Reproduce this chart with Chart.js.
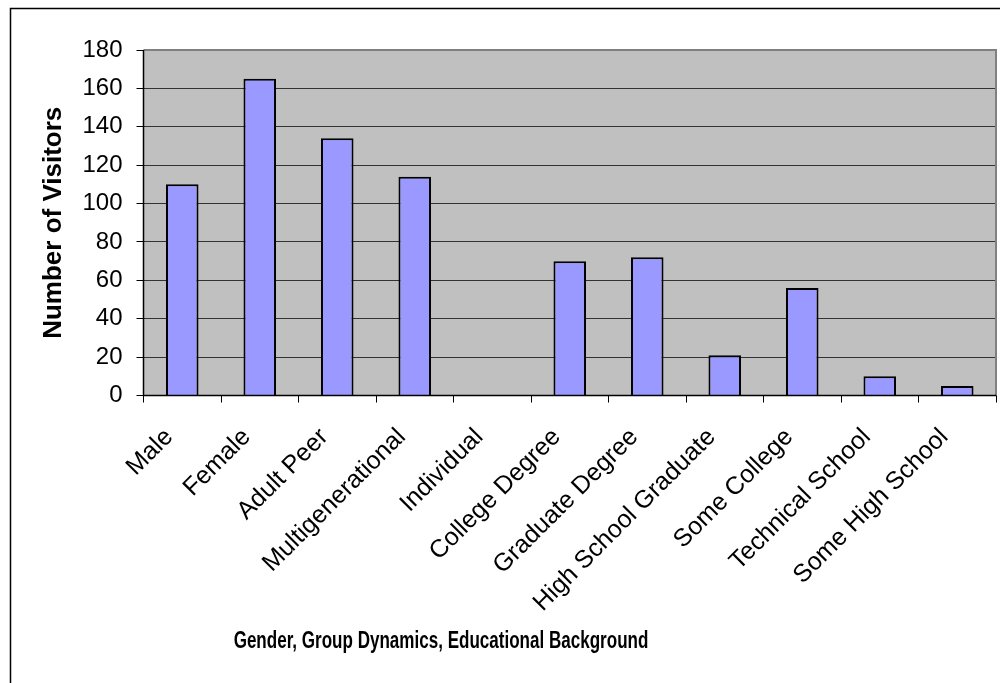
<!DOCTYPE html>
<html>
<head>
<meta charset="utf-8">
<script src="https://cdn.jsdelivr.net/npm/chart.js@4.4.0/dist/chart.umd.min.js"></script>
<style>
  html, body { margin: 0; padding: 0; background: #ffffff; }
  #wrap { position: relative; width: 1000px; height: 683px; }
  canvas { display: block; }
</style>
</head>
<body>
<div id="wrap"><canvas id="c" width="1000" height="683"></canvas></div>
<script>
const categories = ["Male", "Female", "Adult Peer", "Multigenerational", "Individual",
  "College Degree", "Graduate Degree", "High School Graduate", "Some College",
  "Technical School", "Some High School"];
const visitors = [110, 165, 134, 114, 0, 70, 72, 21, 56, 10, 5];
const yTitle = "Number of Visitors";
const xTitle = "Gender, Group Dynamics, Educational Background";
const yMin = 0, yMax = 180, yStep = 20;

const FONT = "'Liberation Sans', Arial, sans-serif";

const framePlugin = {
  id: 'frame',
  beforeDraw(chart) {
    const ctx = chart.ctx;
    const a = chart.chartArea;
    ctx.save();
    ctx.fillStyle = '#ffffff';
    ctx.fillRect(0, 0, chart.width, chart.height);
    ctx.strokeStyle = '#000000';
    ctx.lineWidth = 1.5;
    ctx.beginPath();
    ctx.moveTo(10.5, chart.height + 2);
    ctx.lineTo(10.5, 8.5);
    ctx.lineTo(chart.width + 2, 8.5);
    ctx.stroke();
    ctx.fillStyle = '#C0C0C0';
    ctx.fillRect(a.left, a.top, a.right - a.left, a.bottom - a.top);
    ctx.restore();
  },
  afterDatasetsDraw(chart) {
    const ctx = chart.ctx;
    const a = chart.chartArea;
    ctx.save();
    ctx.strokeStyle = '#808080';
    ctx.lineWidth = 2;
    ctx.beginPath();
    ctx.moveTo(a.left, a.top);
    ctx.lineTo(a.right, a.top);
    ctx.lineTo(a.right, a.bottom);
    ctx.stroke();
    ctx.strokeStyle = '#000000';
    ctx.lineWidth = 1.5;
    ctx.beginPath();
    ctx.moveTo(a.left, a.top);
    ctx.lineTo(a.left, a.bottom);
    ctx.lineTo(a.right, a.bottom);
    ctx.stroke();
    ctx.fillStyle = '#000000';
    ctx.font = "bold 24px " + FONT;
    ctx.textAlign = 'center';
    ctx.textBaseline = 'middle';
    ctx.translate(441, 641);
    ctx.scale(0.71, 1);
    ctx.fillText(xTitle, 0, 0);
    ctx.restore();
  }
};

new Chart(document.getElementById('c'), {
  type: 'bar',
  data: {
    labels: categories,
    datasets: [{
      data: visitors,
      backgroundColor: '#9999FF',
      borderColor: '#000000',
      borderWidth: 2,
      barPercentage: 0.42,
      categoryPercentage: 1.0
    }]
  },
  options: {
    responsive: false,
    animation: false,
    devicePixelRatio: 1,
    layout: { padding: { left: 30, top: 50, right: 4, bottom: 0 } },
    plugins: {
      legend: { display: false },
      tooltip: { enabled: false },
      title: { display: false }
    },
    scales: {
      x: {
        offset: true,
        grid: {
          offset: true,
          drawOnChartArea: false,
          drawTicks: true,
          tickLength: 7,
          tickColor: '#000000',
          tickWidth: 1
        },
        border: { display: true, color: '#000000', width: 1 },
        ticks: {
          autoSkip: false,
          maxRotation: 45,
          minRotation: 45,
          padding: 20,
          labelOffset: -13,
          color: '#000000',
          font: { family: FONT, size: 25 }
        },
        afterFit(scale) { scale.height = 287.5; }
      },
      y: {
        min: yMin,
        max: yMax,
        grid: {
          color: '#333333',
          lineWidth: 1,
          drawTicks: true,
          tickLength: 7,
          tickColor: '#000000'
        },
        border: { display: true, color: '#000000', width: 1 },
        ticks: {
          stepSize: yStep,
          padding: 14,
          color: '#000000',
          font: { family: FONT, size: 24 }
        },
        title: {
          display: true,
          text: yTitle,
          color: '#000000',
          font: { family: FONT, size: 26, weight: 'bold' },
          padding: { top: 8, bottom: 0 }
        },
        afterFit(scale) { scale.width = 113.5; }
      }
    }
  },
  plugins: [framePlugin]
});
</script>
</body>
</html>
